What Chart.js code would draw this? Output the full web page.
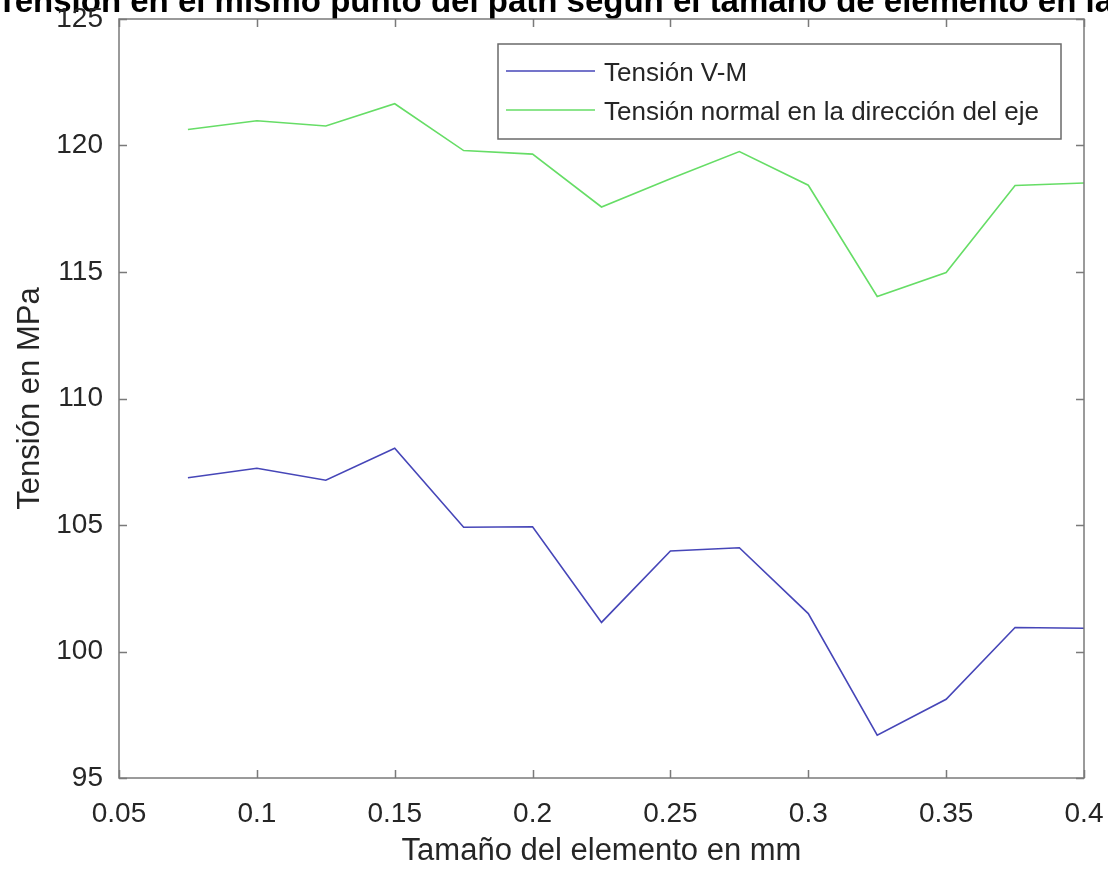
<!DOCTYPE html>
<html>
<head>
<meta charset="utf-8">
<script src="https://cdn.jsdelivr.net/npm/chart.js@4/dist/chart.umd.min.js"></script>
<style>
  html, body { margin: 0; padding: 0; background: #fff; }
</style>
</head>
<body>
<canvas id="tensionChart" width="1108" height="870"></canvas>
<script>
// datos
const elementSize = [0.075, 0.1, 0.125, 0.15, 0.175, 0.2, 0.225, 0.25, 0.275, 0.3, 0.325, 0.35, 0.375, 0.4];
const tensionVM = [106.87, 107.24, 106.77, 108.03, 104.91, 104.93, 101.15, 103.97, 104.1, 101.5, 96.69, 98.11, 100.95, 100.92];
const tensionAxial = [120.63, 120.98, 120.77, 121.65, 119.8, 119.66, 117.57, 118.69, 119.76, 118.43, 114.03, 114.98, 118.42, 118.52];
const xTickValues = [0.05, 0.1, 0.15, 0.2, 0.25, 0.3, 0.35, 0.4];
const yTickValues = [95, 100, 105, 110, 115, 120, 125];
const seriesNames = ['Tensión V-M', 'Tensión normal en la dirección del eje'];
const seriesColors = ['#4646b8', '#66dd66'];
const chartTitle = 'Tensión en el mismo punto del path según el tamaño de elemento en la malla';

const FONT = '"Liberation Sans", Arial, sans-serif';
const textColor = '#262626';
const axisColor = '#7a7a7a';

const toPoints = (vals) => vals.map((v, i) => ({ x: elementSize[i], y: v }));

// caja estilo MATLAB, ticks hacia dentro, leyenda y titulo
const matlabPlugin = {
    id: 'matlabLook',
    beforeDraw(chart) {
        // titulo (cortado arriba como en la figura), debajo de las etiquetas
        const { ctx } = chart;
        ctx.save();
        ctx.font = 'bold 33px ' + FONT;
        ctx.fillStyle = '#000';
        ctx.textAlign = 'left';
        ctx.textBaseline = 'alphabetic';
        ctx.fillText(chartTitle, -3, 12);
        ctx.restore();
    },
    afterDraw(chart) {
        const { ctx, chartArea: a, scales: { x, y } } = chart;
        ctx.save();
        ctx.strokeStyle = axisColor;
        ctx.lineWidth = 1.5;
        ctx.strokeRect(a.left, a.top, a.width, a.height);
        ctx.beginPath();
        x.ticks.forEach(t => {
            const px = Math.round(x.getPixelForValue(t.value)) + 0.5;
            ctx.moveTo(px, a.bottom); ctx.lineTo(px, a.bottom - 8);
            ctx.moveTo(px, a.top); ctx.lineTo(px, a.top + 8);
        });
        y.ticks.forEach(t => {
            const py = Math.round(y.getPixelForValue(t.value)) + 0.5;
            ctx.moveTo(a.left, py); ctx.lineTo(a.left + 8, py);
            ctx.moveTo(a.right, py); ctx.lineTo(a.right - 8, py);
        });
        ctx.stroke();

        // leyenda
        const lx = 498, ly = 44, lw = 563, lh = 95;
        ctx.fillStyle = '#fff';
        ctx.fillRect(lx, ly, lw, lh);
        ctx.strokeStyle = '#6a6a6a';
        ctx.lineWidth = 1.5;
        ctx.strokeRect(lx, ly, lw, lh);
        const rows = [71, 110];
        ctx.font = '26px ' + FONT;
        ctx.textBaseline = 'alphabetic';
        ctx.textAlign = 'left';
        chart.data.datasets.forEach((ds, i) => {
            ctx.strokeStyle = ds.borderColor;
            ctx.lineWidth = 1.5;
            ctx.beginPath();
            ctx.moveTo(506, rows[i]);
            ctx.lineTo(595, rows[i]);
            ctx.stroke();
            ctx.fillStyle = textColor;
            ctx.fillText(ds.label, 604, rows[i] + 10);
        });
        ctx.restore();
    }
};

const ctx = document.getElementById('tensionChart');
const myChart = new Chart(ctx, {
    type: 'line',
    data: {
        datasets: [
            {
                label: seriesNames[0],
                data: toPoints(tensionVM),
                borderColor: seriesColors[0],
                borderWidth: 1.6,
                pointRadius: 0,
                tension: 0
            },
            {
                label: seriesNames[1],
                data: toPoints(tensionAxial),
                borderColor: seriesColors[1],
                borderWidth: 1.6,
                pointRadius: 0,
                tension: 0
            }
        ]
    },
    options: {
        responsive: false,
        animation: false,
        layout: {
            padding: { top: 19, right: 24, left: 0, bottom: 0 }
        },
        plugins: {
            legend: { display: false },
            tooltip: { enabled: false }
        },
        scales: {
            x: {
                type: 'linear',
                min: 0.05,
                max: 0.4,
                grid: { display: false },
                border: { display: false },
                afterBuildTicks: s => { s.ticks = xTickValues.map(v => ({ value: v })); },
                afterFit: s => { s.height = 92; s.paddingLeft = 0; s.paddingRight = 0; },
                ticks: {
                    padding: 11,
                    color: textColor,
                    font: { family: FONT, size: 28 },
                    maxRotation: 0,
                    callback: v => String(+v.toFixed(3))
                },
                title: {
                    display: true,
                    text: 'Tamaño del elemento en mm',
                    color: textColor,
                    font: { family: FONT, size: 31 },
                    padding: { top: 0, bottom: 0 }
                }
            },
            y: {
                min: 95,
                max: 125,
                grid: { display: false },
                border: { display: false },
                afterBuildTicks: s => { s.ticks = yTickValues.map(v => ({ value: v })); },
                afterFit: s => { s.width = 119; s.paddingTop = 0; s.paddingBottom = 0; },
                ticks: {
                    padding: 8,
                    color: textColor,
                    font: { family: FONT, size: 28 }
                },
                title: {
                    display: true,
                    text: 'Tensión en MPa',
                    color: textColor,
                    font: { family: FONT, size: 31 },
                    padding: { top: 12, bottom: 0 }
                }
            }
        }
    },
    plugins: [matlabPlugin]
});
</script>
</body>
</html>
